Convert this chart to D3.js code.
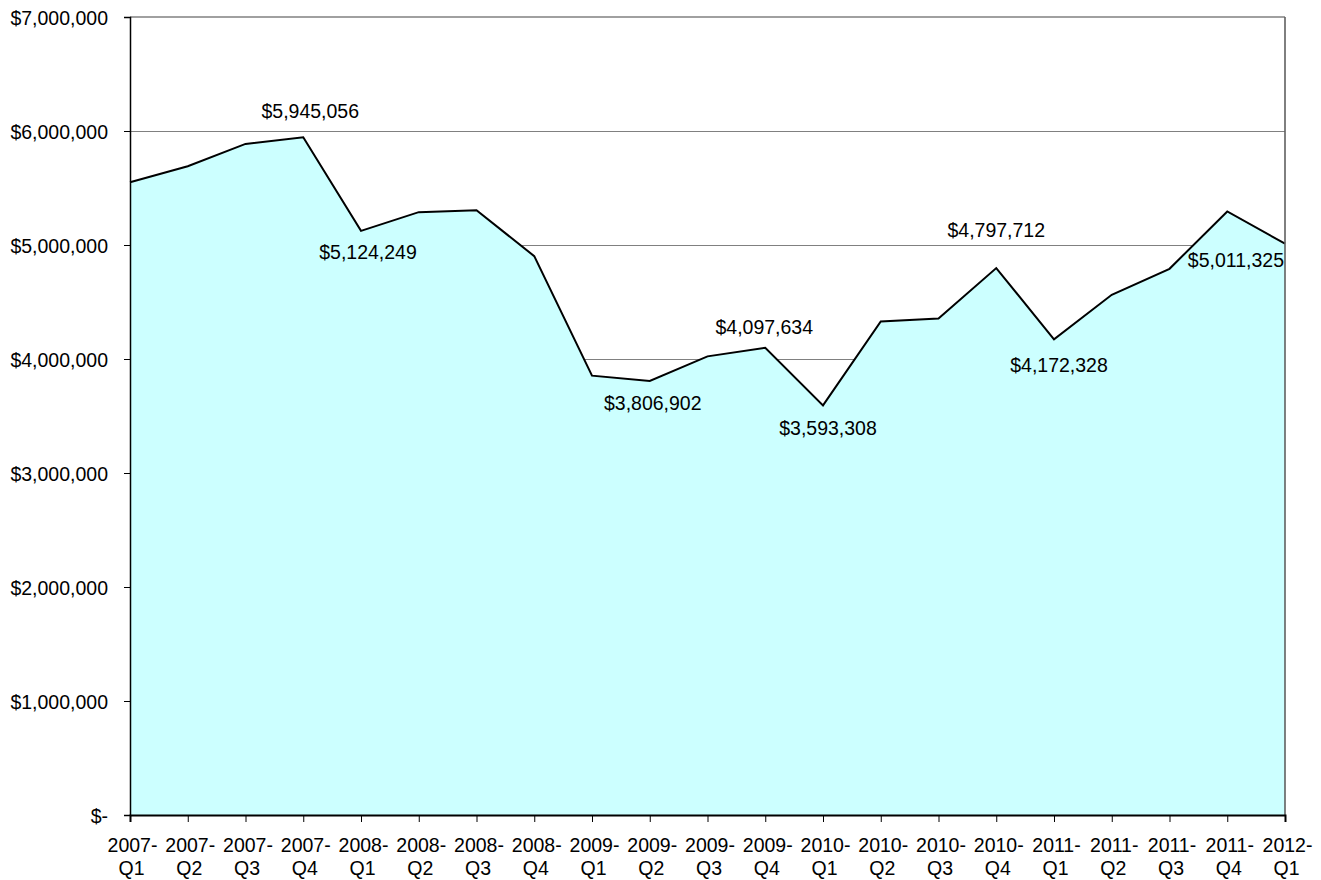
<!DOCTYPE html>
<html>
<head>
<meta charset="utf-8">
<script src="https://cdn.jsdelivr.net/npm/d3@7"></script>
<style>
  html, body { margin: 0; padding: 0; background: #fff; }
  svg text { font-family: "Liberation Sans", Arial, sans-serif; fill: #000; }
</style>
</head>
<body>
<svg id="chart" width="1321" height="880"></svg>
<script>
// ---- data ----
const years    = ["2007","2007","2007","2007","2008","2008","2008","2008","2009","2009","2009","2009","2010","2010","2010","2010","2011","2011","2011","2011","2012"];
const quarters = ["Q1","Q2","Q3","Q4","Q1","Q2","Q3","Q4","Q1","Q2","Q3","Q4","Q1","Q2","Q3","Q4","Q1","Q2","Q3","Q4","Q1"];
const categories = years.map((y, i) => y + "-" + quarters[i]);
const values = [5550000, 5691000, 5887000, 5945056, 5124249, 5288000, 5305000, 4902000, 3854000, 3806902, 4023000, 4097634, 3593308, 4330000, 4356000, 4797712, 4172328, 4563000, 4791000, 5294000, 5011325];
const yTicks = [0, 1000000, 2000000, 3000000, 4000000, 5000000, 6000000, 7000000];
// indices of points carrying a value label
const labelIdx = [3, 4, 9, 11, 12, 15, 16, 20];
// label placement (offsets relative to the point)
const labelPos = [
  {dx: 7,  dy: -19, anchor: "middle"},
  {dx: 7,  dy: 28,  anchor: "middle"},
  {dx: 3,  dy: 29,  anchor: "middle"},
  {dx: -1, dy: -14, anchor: "middle"},
  {dx: 5,  dy: 30,  anchor: "middle"},
  {dx: 0,  dy: -31, anchor: "middle"},
  {dx: 5,  dy: 33,  anchor: "middle"},
  {dx: -1, dy: 23,  anchor: "end"}
];

// ---- layout ----
const mLeft = 130, mRight = 1285, mTop = 17, mBottom = 815;
const svg = d3.select("#chart");
const fontSize = 19.5;
const xFontSize = 19.5;

const x = d3.scalePoint().domain(categories).range([mLeft, mRight]);
const y = d3.scaleLinear().domain([0, 7000000]).range([mBottom, mTop]);

const money = v => v === 0 ? "$-" : "$" + d3.format(",")(v);

// gridlines (behind area)
svg.append("g").selectAll("line")
  .data(yTicks.filter(t => t > 0 && t < 7000000))
  .join("line")
  .attr("x1", mLeft).attr("x2", mRight)
  .attr("y1", d => Math.round(y(d)) + 0.5).attr("y2", d => Math.round(y(d)) + 0.5)
  .attr("stroke", "#808080").attr("stroke-width", 1);

// plot border top
svg.append("line")
  .attr("x1", mLeft).attr("x2", mRight).attr("y1", y(7000000)).attr("y2", y(7000000))
  .attr("stroke", "#808080").attr("stroke-width", 1.3);

// area
const area = d3.area()
  .x((d, i) => x(categories[i]))
  .y0(y(0))
  .y1(d => y(d));
svg.append("path").datum(values)
  .attr("d", area)
  .attr("fill", "#CCFFFF");

// line
const line = d3.line()
  .x((d, i) => x(categories[i]))
  .y(d => y(d));
svg.append("path").datum(values)
  .attr("d", line)
  .attr("fill", "none").attr("stroke", "#000").attr("stroke-width", 2)
  .attr("stroke-linejoin", "miter");

// right border drawn over area
svg.append("line")
  .attr("x1", mRight).attr("x2", mRight).attr("y1", y(7000000)).attr("y2", mBottom)
  .attr("stroke", "#606060").attr("stroke-width", 1.6);

// y axis
const yAxis = d3.axisLeft(y).tickValues(yTicks).tickSize(6).tickPadding(16).tickFormat(money);
const gy = svg.append("g").attr("transform", `translate(${mLeft},0)`).call(yAxis);
gy.select(".domain").attr("stroke", "#000").attr("stroke-width", 1.5);
gy.selectAll(".tick line").attr("stroke", "#000");
gy.selectAll(".tick text").style("font-size", fontSize + "px")
  .style("font-family", '"Liberation Sans", Arial, sans-serif').attr("dy", "0.36em");

// x axis
const xAxis = d3.axisBottom(x).tickSize(7).tickFormat("");
const gx = svg.append("g").attr("transform", `translate(0,${mBottom})`).call(xAxis);
gx.select(".domain").attr("stroke", "#000").attr("stroke-width", 2);
gx.selectAll(".tick line").attr("stroke", "#000");
gx.selectAll(".tick").each(function(d, i) {
  const t = d3.select(this).append("text")
    .attr("text-anchor", "middle")
    .style("font-size", xFontSize + "px")
    .style("font-family", '"Liberation Sans", Arial, sans-serif')
    .attr("fill", "#000");
  t.append("tspan").attr("x", 2).attr("y", 37).text(years[i] + "-");
  t.append("tspan").attr("x", 1).attr("y", 60).text(quarters[i]);
});

// value labels
svg.append("g").selectAll("text")
  .data(labelIdx)
  .join("text")
  .attr("x", (d, k) => x(categories[d]) + labelPos[k].dx)
  .attr("y", (d, k) => y(values[d]) + labelPos[k].dy)
  .attr("text-anchor", (d, k) => labelPos[k].anchor)
  .style("font-size", fontSize + "px")
  .text(d => money(values[d]));
</script>
</body>
</html>
